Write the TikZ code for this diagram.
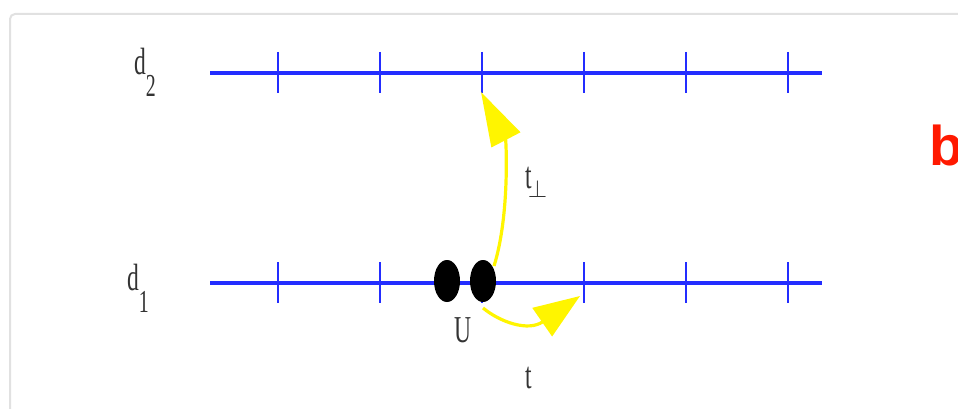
\documentclass[tikz,border=0pt]{standalone}
\usepackage{fontspec}
\setmainfont{Liberation Serif}
\newfontfamily\cond[FakeStretch=0.62]{Liberation Serif}
\newfontfamily\boldsans{Liberation Sans Bold}
\usetikzlibrary{arrows.meta,shapes.geometric}
\definecolor{lineblue}{RGB}{35,45,255}
\definecolor{arrowyellow}{RGB}{255,245,0}
\definecolor{framegray}{RGB}{225,225,225}
\definecolor{labelred}{RGB}{255,25,0}
\tikzset{
  bluerail/.style={draw=lineblue, line width=4pt},
  ticker/.style={draw=lineblue, line width=2.3pt},
  electron/.style={ellipse, fill=black, minimum width=26pt, minimum height=42pt, inner sep=0pt},
  hoparrow/.style={draw=arrowyellow, line width=3.2pt, -{Triangle[length=54pt, width=32pt, fill=arrowyellow]}},
  hoparrowsmall/.style={draw=arrowyellow, line width=3.2pt, -{Triangle[length=46pt, width=34pt, fill=arrowyellow]}},
  lbl/.style={inner sep=0pt, text=black!80, font=\cond\fontsize{38}{42}\selectfont}
}
\begin{document}
\begin{tikzpicture}[x=1pt, y=-1pt]
\useasboundingbox (0,0) rectangle (958,409);
\clip (0,0) rectangle (958,409);
% frame
\draw[framegray, line width=2pt, rounded corners=5pt] (10,440) -- (10,14) -- (990,14);
% rails
\coordinate (r2a) at (210,73); \coordinate (r2b) at (822,73);
\coordinate (r1a) at (210,283); \coordinate (r1b) at (822,283);
\draw[bluerail] (r2a) -- (r2b);
\draw[bluerail] (r1a) -- (r1b);
\foreach \x [count=\i] in {278,380,482,584,686,788} {
  \coordinate (t2\i) at (\x,73);
  \coordinate (t1\i) at (\x,283);
  \draw[ticker] (\x,52) -- (\x,93);
  \draw[ticker] (\x,262) -- (\x,303);
}
% electrons
\node[electron] (ua) at (447,281) {};
\node[electron] (ub) at (483,281) {};
% arrows
\coordinate (s1) at (494,266);
\coordinate (e1) at (481,92);
\draw[hoparrow] (s1) .. controls (510,215) and (506,140) .. (e1);
\coordinate (s2) at (483,308);
\coordinate (e2) at (580,296);
\draw[hoparrowsmall] (s2) .. controls (500,322) and (528,332) .. (e2);
% labels
\node[lbl, anchor=base west] (d2) at (134,75) {d\raisebox{-22pt}{\fontsize{32}{34}\selectfont 2}};
\node[lbl, anchor=base west] (d1) at (127,290) {d\raisebox{-22pt}{\fontsize{32}{34}\selectfont 1}};
\node[lbl, anchor=base west] (tp) at (525,188) {t\kern-4pt\raisebox{-9pt}{\fontsize{34}{36}\selectfont$\perp$}};
\node[lbl, anchor=base] (U) at (463,342) {U};
\node[lbl, anchor=base] (t) at (529,388) {t};
\node[anchor=base west, inner sep=0pt, text=labelred, font=\boldsans\fontsize{56}{60}\selectfont] (b) at (929,165) {b};
\end{tikzpicture}
\end{document}
